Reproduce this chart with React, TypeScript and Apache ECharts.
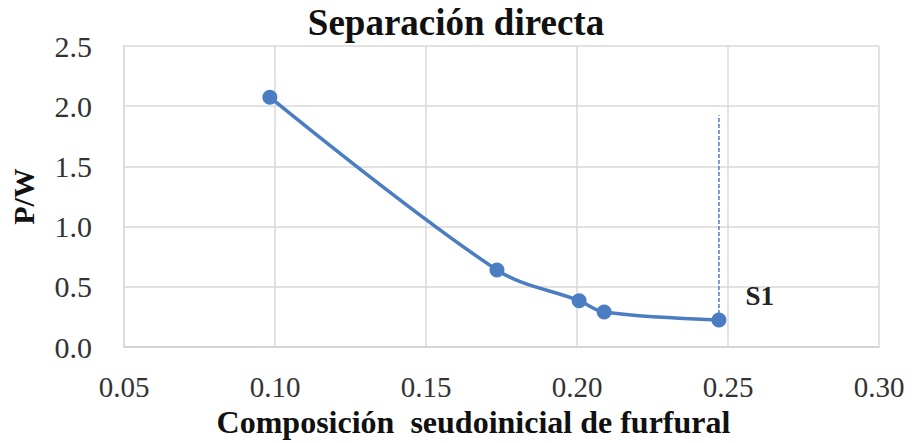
import React, { useEffect, useRef } from "react";
import * as echarts from "echarts";

const composition = [0.0983, 0.1735, 0.2007, 0.209, 0.247];
const pw = [2.075, 0.64, 0.385, 0.29, 0.225];
const dashX = [0.247, 0.247];
const dashY = [0.225, 1.925];
const xTicks = { min: 0.05, max: 0.3, interval: 0.05 };
const yTicks = { min: 0, max: 2.5, interval: 0.5 };
const pointLabel = "S1";

const FONT = "Liberation Serif";
const BLUE = "#4a7dc2";

export default function App() {
  const ref = useRef<HTMLDivElement>(null);
  useEffect(() => {
    document.body.style.margin = "0";
    if (!ref.current) return;
    const chart = echarts.init(ref.current, null, { renderer: "svg" });
    const main = composition.map((x, i) => {
      const d: any = { value: [x, pw[i]] };
      if (i === composition.length - 1) {
        d.label = {
          show: true,
          formatter: pointLabel,
          position: "right",
          offset: [14, -24],
          fontFamily: FONT,
          fontWeight: "bold",
          fontSize: 27,
          color: "#222",
        };
      }
      return d;
    });
    chart.setOption({
      animation: false,
      textStyle: { fontFamily: FONT },
      title: {
        text: "Separación directa",
        left: "center",
        top: -1,
        padding: [5, 18, 5, 0],
        textStyle: { fontFamily: FONT, fontWeight: "bold", fontSize: 37, color: "#111" },
      },
      grid: { left: 120, right: 33, top: 46, bottom: 95 },
      xAxis: {
        type: "value",
        min: xTicks.min,
        max: xTicks.max,
        interval: xTicks.interval,
        name: "Composición  seudoinicial de furfural",
        nameLocation: "middle",
        nameGap: 59,
        nameTextStyle: {
          fontFamily: FONT,
          fontWeight: "bold",
          fontSize: 32,
          color: "#111",
          padding: [0, 56, 0, 0],
        },
        axisLine: { lineStyle: { color: "#d0d0d0", width: 1.5 } },
        axisTick: { show: false },
        axisLabel: {
          margin: 25,
          fontFamily: FONT,
          fontSize: 29,
          color: "#333",
          formatter: (v: number) => v.toFixed(2),
        },
        splitLine: { show: true, lineStyle: { color: "#d9d9d9", width: 1.5 } },
      },
      yAxis: {
        type: "value",
        min: yTicks.min,
        max: yTicks.max,
        interval: yTicks.interval,
        name: "P/W",
        nameLocation: "middle",
        nameGap: 86,
        nameTextStyle: { fontFamily: FONT, fontWeight: "bold", fontSize: 30, color: "#111" },
        axisLine: { show: true, lineStyle: { color: "#d9d9d9", width: 1.5 } },
        axisTick: { show: false },
        axisLabel: {
          margin: 32,
          fontFamily: FONT,
          fontSize: 30,
          color: "#333",
          formatter: (v: number) => v.toFixed(1),
        },
        splitLine: { show: true, lineStyle: { color: "#d9d9d9", width: 1.5 } },
      },
      series: [
        {
          type: "line",
          data: dashX.map((x, i) => [x, dashY[i]]),
          showSymbol: false,
          symbol: "none",
          lineStyle: { color: BLUE, width: 1.5, type: [4, 2] },
          z: 1,
        },
        {
          type: "line",
          data: main,
          smooth: 0.35,
          symbol: "circle",
          symbolSize: 15,
          itemStyle: { color: BLUE },
          lineStyle: { color: BLUE, width: 3.5 },
          z: 3,
        },
      ],
    });
    return () => chart.dispose();
  }, []);
  return <div ref={ref} style={{ width: 912, height: 443 }} />;
}
